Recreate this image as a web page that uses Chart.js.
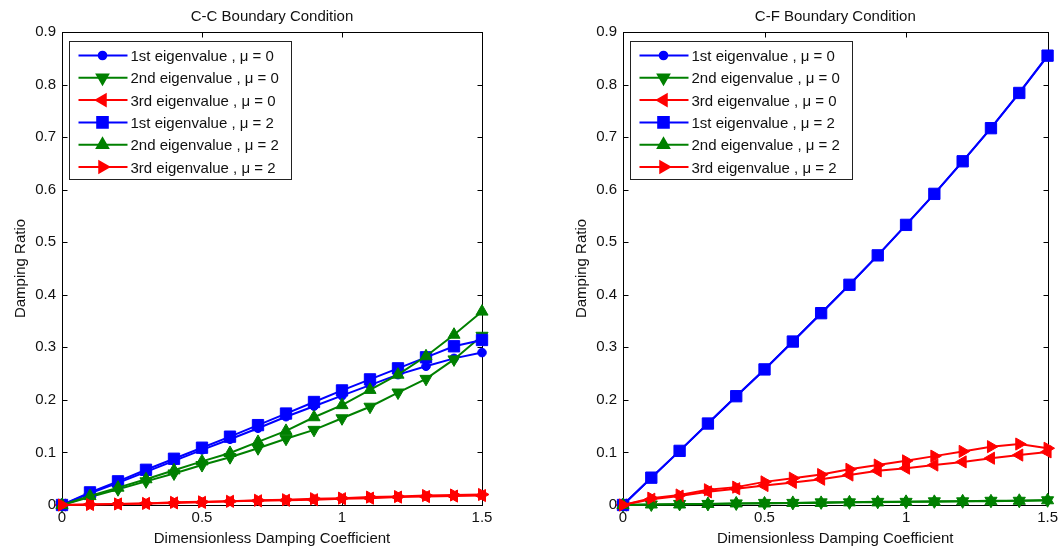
<!DOCTYPE html>
<html>
<head>
<meta charset="utf-8">
<script src="https://cdn.jsdelivr.net/npm/chart.js@4/dist/chart.umd.min.js"></script>
<style>
  body { margin: 0; background: #fff; width: 1062px; height: 550px; overflow: hidden; position: relative; }
  canvas { position: absolute; top: 0; }
</style>
</head>
<body>
<canvas id="ccChart" width="531" height="550" style="left:0"></canvas>
<canvas id="cfChart" width="531" height="550" style="left:531px"></canvas>
<script>
// dimensionless damping coefficient (x)
const coeffs = [0, 0.1, 0.2, 0.3, 0.4, 0.5, 0.6, 0.7, 0.8, 0.9, 1.0, 1.1, 1.2, 1.3, 1.4, 1.5];

const seriesLabels = [
  '1st eigenvalue , μ = 0',
  '2nd eigenvalue , μ = 0',
  '3rd eigenvalue , μ = 0',
  '1st eigenvalue , μ = 2',
  '2nd eigenvalue , μ = 2',
  '3rd eigenvalue , μ = 2'
];

// C-C boundary condition
const ccFirstMu0  = [0, 0.022, 0.042, 0.063, 0.084, 0.105, 0.125, 0.146, 0.168, 0.188, 0.208, 0.228, 0.248, 0.264, 0.279, 0.290];
const ccSecondMu0 = [0, 0.015, 0.030, 0.045, 0.060, 0.076, 0.091, 0.108, 0.126, 0.143, 0.165, 0.187, 0.214, 0.240, 0.277, 0.322];
const ccThirdMu0  = [0, 0.001, 0.002, 0.003, 0.004, 0.005, 0.007, 0.008, 0.009, 0.010, 0.012, 0.013, 0.015, 0.016, 0.017, 0.018];
const ccFirstMu2  = [0, 0.024, 0.045, 0.067, 0.088, 0.109, 0.130, 0.152, 0.174, 0.196, 0.218, 0.239, 0.260, 0.281, 0.302, 0.314];
const ccSecondMu2 = [0, 0.017, 0.033, 0.049, 0.066, 0.083, 0.099, 0.120, 0.141, 0.167, 0.190, 0.219, 0.248, 0.283, 0.324, 0.368];
const ccThirdMu2  = [0, 0.001, 0.002, 0.003, 0.005, 0.006, 0.007, 0.009, 0.010, 0.012, 0.013, 0.015, 0.016, 0.018, 0.019, 0.020];

// C-F boundary condition
const cfFirstMu0  = [0, 0.052, 0.103, 0.155, 0.207, 0.258, 0.311, 0.365, 0.419, 0.475, 0.533, 0.592, 0.654, 0.717, 0.784, 0.854];
const cfSecondMu0 = [0, 0.001, 0.002, 0.002, 0.003, 0.004, 0.004, 0.005, 0.005, 0.006, 0.006, 0.007, 0.007, 0.008, 0.008, 0.009];
const cfThirdMu0  = [0, 0.011, 0.017, 0.025, 0.031, 0.037, 0.043, 0.049, 0.057, 0.065, 0.070, 0.076, 0.082, 0.089, 0.095, 0.101];
const cfFirstMu2  = [0, 0.052, 0.103, 0.155, 0.207, 0.258, 0.311, 0.365, 0.419, 0.475, 0.533, 0.592, 0.654, 0.717, 0.784, 0.855];
const cfSecondMu2 = [0, 0.001, 0.001, 0.002, 0.003, 0.003, 0.004, 0.004, 0.005, 0.005, 0.006, 0.006, 0.007, 0.007, 0.008, 0.009];
const cfThirdMu2  = [0, 0.013, 0.019, 0.029, 0.034, 0.044, 0.051, 0.058, 0.068, 0.076, 0.084, 0.093, 0.102, 0.111, 0.116, 0.108];

const xTicks = [0, 0.5, 1, 1.5];
const yTicks = [0, 0.1, 0.2, 0.3, 0.4, 0.5, 0.6, 0.7, 0.8, 0.9];

const FONT = '"Liberation Sans", Arial, Helvetica, sans-serif';
Chart.defaults.font.family = FONT;
Chart.defaults.font.size = 15;
Chart.defaults.color = '#111';

// marker look per series (MATLAB style)
const markerStyles = [
  { color: '#0000ff', pointStyle: 'circle',   rotation: 0,   radius: 4.3 },
  { color: '#008000', pointStyle: 'triangle', rotation: 180, radius: 7 },
  { color: '#ff0000', pointStyle: 'triangle', rotation: -90, radius: 7 },
  { color: '#0000ff', pointStyle: 'rect',     rotation: 0,   radius: 8 },
  { color: '#008000', pointStyle: 'triangle', rotation: 0,   radius: 7 },
  { color: '#ff0000', pointStyle: 'triangle', rotation: 90,  radius: 7 }
];

// box, inward ticks, title and boxed legend
const matlabAxes = {
  id: 'matlabAxes',
  beforeDatasetsDraw(chart) {
    const { ctx, chartArea: a, scales: { x, y } } = chart;
    const l = Math.round(a.left) + 0.5, r = Math.round(a.right) + 0.5;
    const t = Math.round(a.top) + 0.5, b = Math.round(a.bottom) + 0.5;
    ctx.save();
    ctx.strokeStyle = '#000';
    ctx.lineWidth = 1;
    ctx.strokeRect(l, t, r - l, b - t);
    ctx.beginPath();
    xTicks.forEach(v => {
      const px = Math.round(x.getPixelForValue(v)) + 0.5;
      ctx.moveTo(px, b); ctx.lineTo(px, b - 5);
      ctx.moveTo(px, t); ctx.lineTo(px, t + 5);
    });
    yTicks.forEach(v => {
      const py = Math.round(y.getPixelForValue(v)) + 0.5;
      ctx.moveTo(l, py); ctx.lineTo(l + 5, py);
      ctx.moveTo(r, py); ctx.lineTo(r - 5, py);
    });
    ctx.stroke();
    ctx.restore();
  },
  afterDraw(chart, args, opts) {
    const { ctx, chartArea: a } = chart;
    ctx.save();
    ctx.fillStyle = '#111';
    ctx.font = '15px ' + FONT;
    ctx.textAlign = 'center';
    ctx.textBaseline = 'alphabetic';
    ctx.fillText(opts.title, (a.left + a.right) / 2, 21);

    // legend
    const bx = Math.round(a.left) + 7.5, by = Math.round(a.top) + 9.5;
    const bw = 222, bh = 138;
    ctx.fillStyle = '#fff';
    ctx.fillRect(bx, by, bw, bh);
    ctx.strokeStyle = '#222';
    ctx.lineWidth = 1;
    ctx.strokeRect(bx, by, bw, bh);
    chart.data.datasets.forEach((ds, i) => {
      const st = markerStyles[i];
      const cy = by + 14 + i * 22.3;
      ctx.strokeStyle = st.color;
      ctx.fillStyle = st.color;
      ctx.lineWidth = 2;
      ctx.beginPath();
      ctx.moveTo(bx + 9, cy); ctx.lineTo(bx + 58, cy);
      ctx.stroke();
      Chart.helpers.drawPoint(ctx, {
        pointStyle: st.pointStyle, rotation: st.rotation,
        radius: st.radius - 0.5, borderWidth: 1
      }, bx + 33, cy);
      ctx.fillStyle = '#111';
      ctx.textAlign = 'left';
      ctx.fillText(ds.label, bx + 61, cy + 5.5);
    });
    ctx.restore();
  }
};

function makeChart(id, title, seriesList, padLeft, padRight) {
  const datasets = seriesList.map((vals, i) => {
    const st = markerStyles[i];
    return {
      label: seriesLabels[i],
      data: vals.map((v, k) => ({ x: coeffs[k], y: v })),
      borderColor: st.color,
      backgroundColor: st.color,
      borderWidth: 2,
      pointStyle: st.pointStyle,
      rotation: st.rotation,
      pointRadius: st.radius,
      pointBorderWidth: 1,
      pointBackgroundColor: st.color,
      pointBorderColor: st.color,
      tension: 0,
      clip: false,
      order: 6 - i
    };
  });

  return new Chart(document.getElementById(id), {
    type: 'line',
    data: { datasets },
    options: {
      responsive: false,
      animation: false,
      events: [],
      layout: { padding: { left: padLeft, right: padRight, top: 32, bottom: 0 } },
      scales: {
        x: {
          type: 'linear', min: 0, max: 1.5,
          afterFit: s => { s.height = 45; },
          afterBuildTicks: s => { s.ticks = xTicks.map(v => ({ value: v })); },
          grid: { display: false, drawTicks: false },
          border: { display: false },
          ticks: { padding: 4, maxRotation: 0, callback: v => String(v) },
          title: { display: true, text: 'Dimensionless Damping Coefficient', padding: { top: 0, bottom: 2 } }
        },
        y: {
          type: 'linear', min: 0, max: 0.9,
          afterFit: s => { s.width = 62; },
          afterBuildTicks: s => { s.ticks = yTicks.map(v => ({ value: v })); },
          grid: { display: false, drawTicks: false },
          border: { display: false },
          ticks: { padding: 6, callback: v => String(Number(v.toFixed(1))) },
          title: { display: true, text: 'Damping Ratio', padding: { top: 12, bottom: 0 } }
        }
      },
      plugins: {
        legend: { display: false },
        tooltip: { enabled: false },
        matlabAxes: { title }
      }
    },
    plugins: [matlabAxes]
  });
}

makeChart('ccChart', 'C-C Boundary Condition',
  [ccFirstMu0, ccSecondMu0, ccThirdMu0, ccFirstMu2, ccSecondMu2, ccThirdMu2], 0, 49);
makeChart('cfChart', 'C-F Boundary Condition',
  [cfFirstMu0, cfSecondMu0, cfThirdMu0, cfFirstMu2, cfSecondMu2, cfThirdMu2], 30, 11);
</script>
</body>
</html>
